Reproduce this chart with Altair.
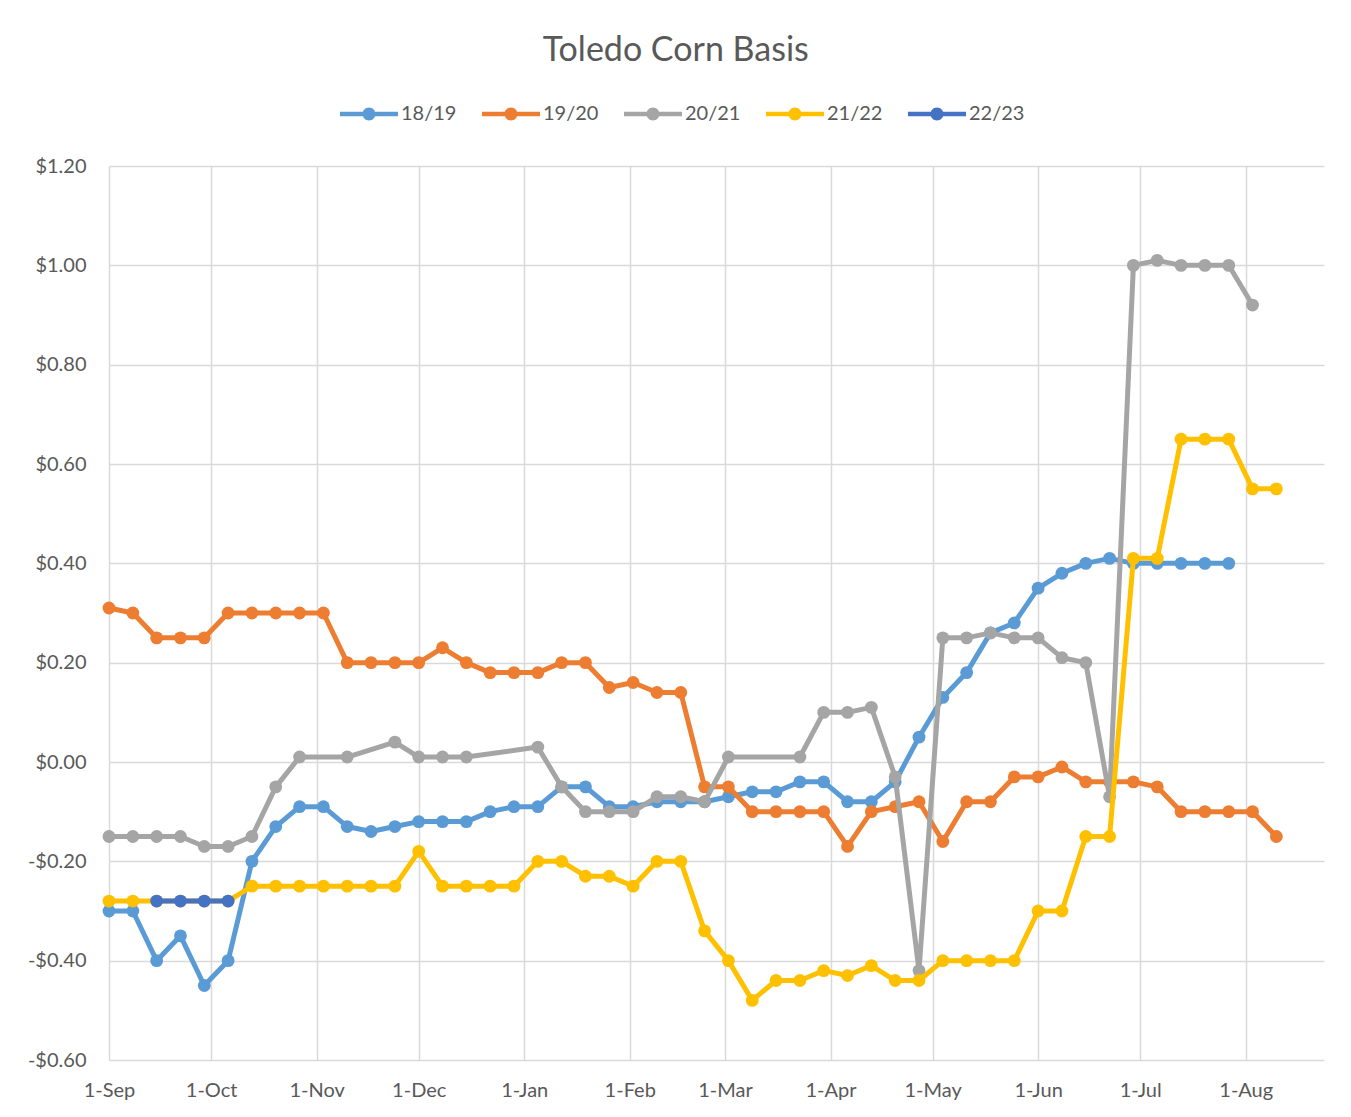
import altair as alt
import pandas as pd

chart_title = "Toledo Corn Basis"
seasons = ["18/19", "19/20", "20/21", "21/22", "22/23"]
colors = ["#5B9BD5", "#ED7D31", "#A5A5A5", "#FFC000", "#4472C4"]

# weekly observation dates on a common Sep-Aug season axis
week_dates = [d.strftime("%Y-%m-%d") for d in pd.date_range("2022-09-01", periods=50, freq="7D")]

s1819 = [-0.30, -0.30, -0.40, -0.35, -0.45, -0.40, -0.20, -0.13, -0.09, -0.09,
         -0.13, -0.14, -0.13, -0.12, -0.12, -0.12, -0.10, -0.09, -0.09, -0.05,
         -0.05, -0.09, -0.09, -0.08, -0.08, -0.08, -0.07, -0.06, -0.06, -0.04,
         -0.04, -0.08, -0.08, -0.04, 0.05, 0.13, 0.18, 0.26, 0.28, 0.35,
         0.38, 0.40, 0.41, 0.40, 0.40, 0.40, 0.40, 0.40]
s1920 = [0.31, 0.30, 0.25, 0.25, 0.25, 0.30, 0.30, 0.30, 0.30, 0.30,
         0.20, 0.20, 0.20, 0.20, 0.23, 0.20, 0.18, 0.18, 0.18, 0.20,
         0.20, 0.15, 0.16, 0.14, 0.14, -0.05, -0.05, -0.10, -0.10, -0.10,
         -0.10, -0.17, -0.10, -0.09, -0.08, -0.16, -0.08, -0.08, -0.03, -0.03,
         -0.01, -0.04, -0.04, -0.04, -0.05, -0.10, -0.10, -0.10, -0.10, -0.15]
s2021 = [-0.15, -0.15, -0.15, -0.15, -0.17, -0.17, -0.15, -0.05, 0.01, None,
         0.01, None, 0.04, 0.01, 0.01, 0.01, None, None, 0.03, -0.05,
         -0.10, -0.10, -0.10, -0.07, -0.07, -0.08, 0.01, None, None, 0.01,
         0.10, 0.10, 0.11, -0.03, -0.42, 0.25, 0.25, 0.26, 0.25, 0.25,
         0.21, 0.20, -0.07, 1.00, 1.01, 1.00, 1.00, 1.00, 0.92]
s2122 = [-0.28, -0.28, -0.28, -0.28, -0.28, -0.28, -0.25, -0.25, -0.25, -0.25,
         -0.25, -0.25, -0.25, -0.18, -0.25, -0.25, -0.25, -0.25, -0.20, -0.20,
         -0.23, -0.23, -0.25, -0.20, -0.20, -0.34, -0.40, -0.48, -0.44, -0.44,
         -0.42, -0.43, -0.41, -0.44, -0.44, -0.40, -0.40, -0.40, -0.40, -0.30,
         -0.30, -0.15, -0.15, 0.41, 0.41, 0.65, 0.65, 0.65, 0.55, 0.55]
s2223 = [None, None, -0.28, -0.28, -0.28, -0.28]

series_values = [s1819, s1920, s2021, s2122, s2223]
y_ticks = [-0.6, -0.4, -0.2, 0.0, 0.2, 0.4, 0.6, 0.8, 1.0, 1.2]

rows = []
for name, vals in zip(seasons, series_values):
    for d, v in zip(week_dates, vals):
        if v is not None:
            rows.append({"season": name, "date": d, "basis": v})
df = pd.DataFrame(rows)

FONT = "Lato"
TXT = "#595959"
GRID = "#D9D9D9"

color_scale = alt.Scale(domain=seasons, range=colors)
x_enc = alt.X(
    "date:T",
    scale=alt.Scale(type="utc",
                    domain=[alt.DateTime(year=2022, month=9, date=1, utc=True),
                            alt.DateTime(year=2023, month=8, date=24, utc=True)]),
    axis=alt.Axis(title=None, format="%-d-%b",
                  tickCount=alt.TimeIntervalStep(interval="month", step=1),
                  grid=True, gridColor=GRID, gridWidth=1.5, domain=False, ticks=False,
                  labelFlush=False, labelOverlap=False,
                  labelFont=FONT, labelFontSize=20, labelColor=TXT, labelPadding=20),
)
y_enc = alt.Y(
    "basis:Q",
    scale=alt.Scale(domain=[-0.6, 1.2], nice=False, zero=False),
    axis=alt.Axis(title=None, values=y_ticks,
                  labelExpr="datum.value < -0.0001 ? '-$' + format(-datum.value, '.2f') : '$' + format(abs(datum.value), '.2f')",
                  grid=True, gridColor=GRID, gridWidth=1.5, domain=False, ticks=False,
                  labelFont=FONT, labelFontSize=20, labelColor=TXT, labelPadding=23),
)

legend_symbol = ("M-1,-0.076L1,-0.076L1,0.076L-1,0.076Z "
                 "M-0.224,0A0.224,0.224 0 1,1 0.224,0A0.224,0.224 0 1,1 -0.224,0Z")
legend = alt.Legend(title=None, orient="none", legendX=231, legendY=-81,
                    direction="horizontal", symbolType=legend_symbol, symbolSize=3364,
                    symbolStrokeWidth=0, labelFont=FONT, labelFontSize=20,
                    labelColor=TXT, columnPadding=25, labelOffset=3)

layers = []
for name, col in zip(seasons, colors):
    base = alt.Chart(df).transform_filter(alt.datum.season == name)
    line = base.mark_line(color=col, strokeWidth=5, strokeJoin="round", strokeCap="round").encode(
        x=x_enc, y=y_enc,
    )
    pts = base.mark_point(filled=True, size=165, opacity=1).encode(
        x=x_enc, y=y_enc,
        color=alt.Color("season:N", scale=color_scale, legend=legend),
    )
    layers += [line, pts]

chart = alt.layer(*layers).properties(
    width=1215, height=894,
    title=alt.TitleParams(text=chart_title, font=FONT, fontSize=34, fontWeight="normal",
                          color=TXT, anchor="middle", frame="bounds", offset=17),
    padding={"left": 19, "top": 26, "right": 5, "bottom": 5},
    background="white",
).configure_view(stroke=None)

chart.save("out.html", embed_options={"renderer": "svg", "actions": False})
